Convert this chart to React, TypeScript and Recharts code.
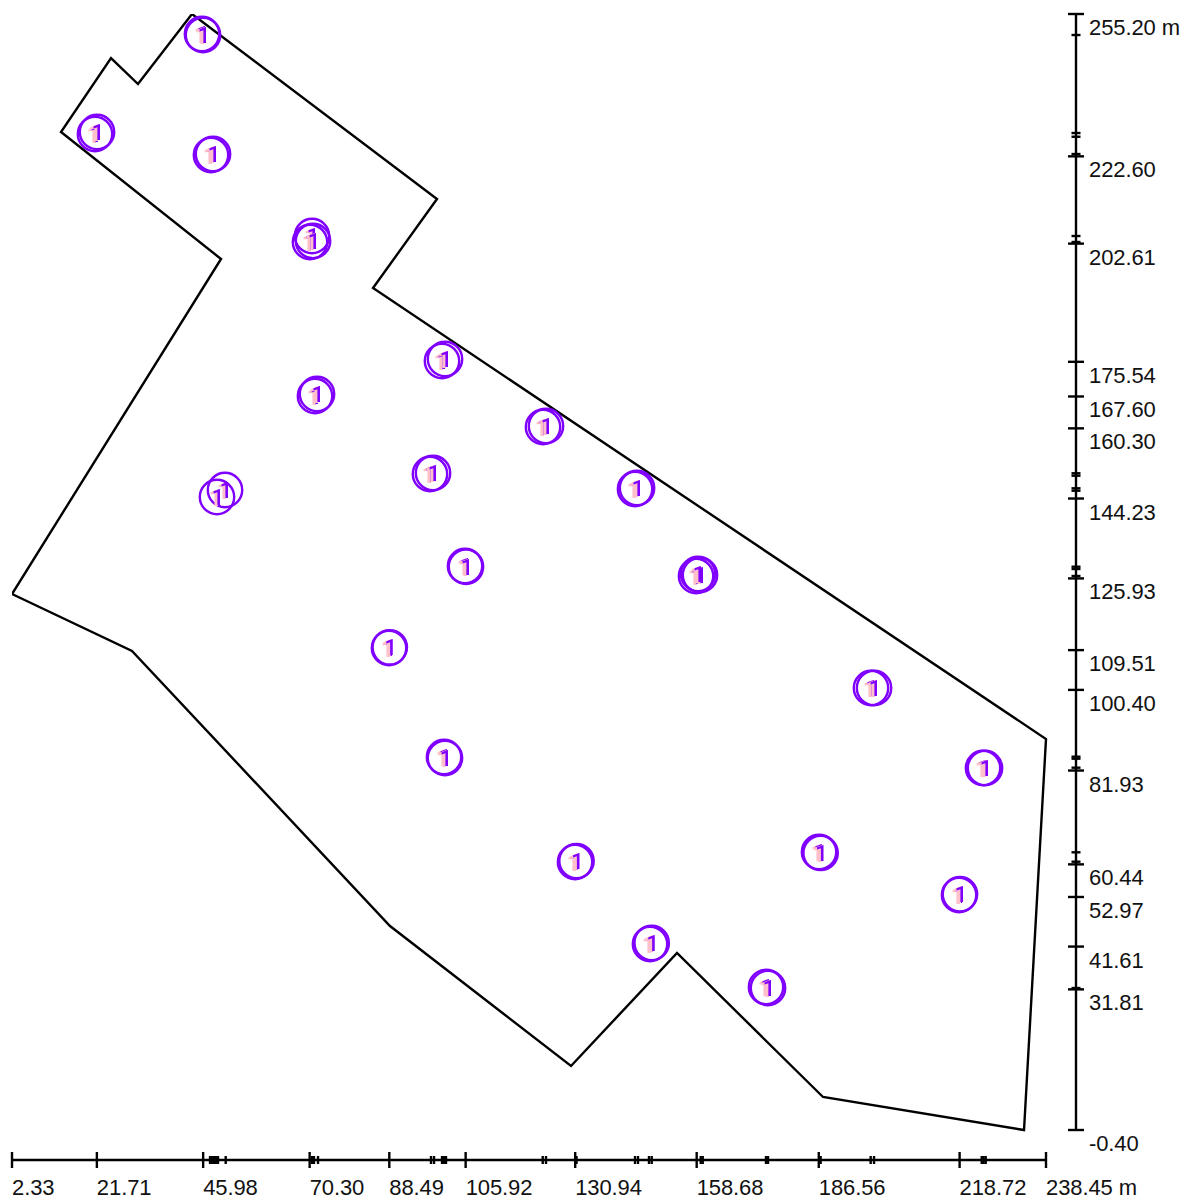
import React from "react";
import { ScatterChart, Scatter, XAxis, YAxis, ReferenceLine } from "recharts";

const X_MIN = 2.33;
const X_MAX = 238.45;
const Y_MIN = -0.4;
const Y_MAX = 255.2;
const X_DOMAIN_MAX = 245.3;
const Y_DOMAIN_MIN = -7.27;

const xMajorTicks = [2.33, 21.71, 45.98, 70.3, 88.49, 105.92, 130.94, 158.68, 186.56, 218.72, 238.45];
const xMinorTicks = [
  47.55, 48.0, 48.46, 48.92, 49.37, 51.13, 70.84, 71.29, 72.21, 98.01, 98.7, 100.53, 100.98, 101.44,
  123.52, 124.27, 131.24, 144.6, 145.28, 147.79, 148.41, 159.6, 160.06, 174.51, 174.97, 186.98,
  198.41, 199.18, 223.77, 224.2, 224.68,
];
const yMajorTicks = [
  -0.4, 31.81, 41.61, 52.97, 60.44, 81.93, 100.4, 109.51, 125.93, 144.23, 160.3, 167.6, 175.54,
  202.61, 222.6, 255.2,
];
const yMinorTicks = [
  250.39, 227.94, 227.09, 223.13, 204.35, 202.98, 150.01, 149.46, 146.57, 146.02, 128.61, 128.09,
  126.48, 85.1, 84.64, 82.58, 63.2, 61.05, 32.12,
];

const boundaryX = [43.43, 99.38, 84.77, 238.45, 233.43, 187.53, 154.19, 129.98, 88.65, 29.73, 2.33, 50.06, 13.52, 24.94, 31.1, 43.43];
const boundaryY = [255.2, 212.83, 192.44, 89.15, -0.4, 7.16, 40.14, 14.26, 46.32, 109.31, 122.36, 199.09, 228.17, 245.12, 239.17, 255.2];

const stationX = [
  45.72, 45.95, 21.28, 21.74, 47.77, 48.23, 70.84, 70.38, 71.07, 100.52, 101.21, 71.52, 71.98, 123.59,
  124.27, 97.78, 98.47, 50.97, 49.14, 144.6, 145.06, 105.78, 106.0, 158.53, 159.44, 158.98, 88.42, 88.6, 198.49,
  199.18, 100.98, 101.2, 224.07, 224.52, 130.9, 131.24, 186.62, 186.98, 218.59, 218.8, 148.02, 148.41, 174.51, 174.97,
];
const stationY = [
  250.62, 250.39, 227.71, 228.17, 222.9, 223.13, 204.35, 202.98, 203.21, 175.72, 176.18, 167.71, 168.17,
  160.61, 160.84, 149.84, 150.07, 146.18, 144.58, 146.41, 146.64, 128.77, 128.6, 126.48, 126.71, 126.94, 109.99, 110.15,
  100.83, 100.83, 85.03, 84.8, 82.51, 82.51, 60.98, 61.2, 63.27, 63.05, 53.42, 53.6, 42.2, 42.45, 32.35, 32.12,
];
const stationLabel = "1";

const boundary = boundaryX.map((x, i) => ({ x, y: boundaryY[i] }));
const stations = stationX.map((x, i) => ({ x, y: stationY[i] }));

const FONT = "'Liberation Sans', Arial, sans-serif";
const TEXT = "#111";

function XTick(props: any) {
  const { x, y, payload } = props;
  const major = xMajorTicks.includes(payload.value);
  const half = major ? 8 : 4;
  const label = payload.value === X_MAX ? `${payload.value.toFixed(2)} m` : payload.value.toFixed(2);
  return (
    <g>
      <line x1={x} x2={x} y1={y - half} y2={y + half} stroke="#000" strokeWidth={2.4} />
      {major && (
        <text x={x} y={y + 35} fontFamily={FONT} fontSize={22} letterSpacing={-0.1} fill={TEXT} textAnchor="start">
          {label}
        </text>
      )}
    </g>
  );
}

function YTick(props: any) {
  const { x, y, payload } = props;
  const major = yMajorTicks.includes(payload.value);
  const half = major ? 8 : 4.5;
  const label = payload.value === Y_MAX ? `${payload.value.toFixed(2)} m` : payload.value.toFixed(2);
  return (
    <g>
      <line x1={x - half} x2={x + half} y1={y} y2={y} stroke="#000" strokeWidth={2.4} />
      {major && (
        <text x={x + 13} y={y + 21} fontFamily={FONT} fontSize={22} letterSpacing={-0.1} fill={TEXT} textAnchor="start">
          {label}
        </text>
      )}
    </g>
  );
}

function StationMark(props: any) {
  const { cx, cy } = props;
  return (
    <g>
      <text
        x={cx + 1}
        y={cy + 8}
        fontFamily="Roboto, sans-serif"
        fontWeight={500}
        fontSize={22}
        fill="#8000ff"
        textAnchor="middle"
        style={{ filter: "drop-shadow(-2px 1px 0 #ffc0cb) drop-shadow(-1px 0 0 #ffc0cb)" }}
      >
        {stationLabel}
      </text>
      <circle cx={cx} cy={cy} r={17.2} fill="none" stroke="#8000ff" strokeWidth={2.4} />
    </g>
  );
}

const noMark = () => <g />;

export default function App() {
  return (
    <div style={{ position: "absolute", left: 0, top: 0, width: 1184, height: 1200, background: "#fff" }}>
      <ScatterChart width={1184} height={1200} margin={{ left: 12, right: 0, top: 14, bottom: 0 }}>
        <XAxis
          type="number"
          dataKey="x"
          domain={[X_MIN, X_DOMAIN_MAX]}
          ticks={[...xMajorTicks, ...xMinorTicks]}
          interval={0}
          height={40}
          axisLine={false}
          tickLine={false}
          tickSize={0}
          tickMargin={0}
          tick={<XTick />}
          allowDataOverflow
        />
        <YAxis
          type="number"
          dataKey="y"
          orientation="right"
          domain={[Y_DOMAIN_MIN, Y_MAX]}
          ticks={[...yMajorTicks, ...yMinorTicks]}
          interval={0}
          width={108}
          axisLine={false}
          tickLine={false}
          tickSize={0}
          tickMargin={0}
          tick={<YTick />}
          allowDataOverflow
        />
        <ReferenceLine
          segment={[{ x: X_MIN, y: Y_DOMAIN_MIN }, { x: X_MAX, y: Y_DOMAIN_MIN }]}
          stroke="#000"
          strokeWidth={2.4}
          ifOverflow="visible"
        />
        <ReferenceLine
          segment={[{ x: X_DOMAIN_MAX, y: Y_MIN }, { x: X_DOMAIN_MAX, y: Y_MAX }]}
          stroke="#000"
          strokeWidth={2.4}
          ifOverflow="visible"
        />
        <Scatter
          data={boundary}
          line={{ stroke: "#000", strokeWidth: 2.4 }}
          lineType="joint"
          shape={noMark}
          isAnimationActive={false}
        />
        <Scatter data={stations} shape={<StationMark />} isAnimationActive={false} />
      </ScatterChart>
    </div>
  );
}
